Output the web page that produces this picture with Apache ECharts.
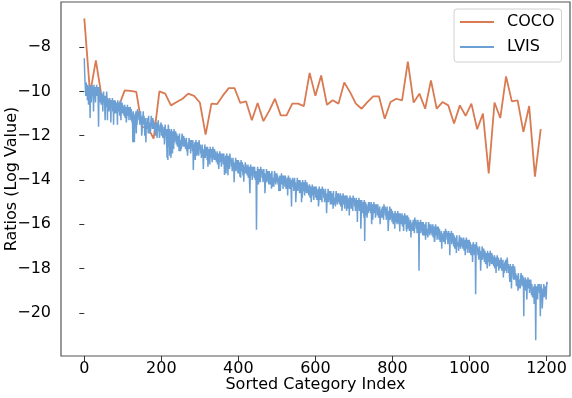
<!DOCTYPE html>
<html>
<head>
<meta charset="utf-8">
<script src="https://cdn.jsdelivr.net/npm/echarts@6/dist/echarts.min.js"></script>
<style>html,body{margin:0;padding:0;background:#fff}#c{width:572px;height:398px}</style>
</head>
<body>
<div id="c"></div>
<script>
const seriesNames = ['COCO', 'LVIS'];
const xTicks = [0, 200, 400, 600, 800, 1000, 1200];
const yTicks = [-20, -18, -16, -14, -12, -10, -8];
const cocoStep = 15;
const cocoValues = [
-6.70,-10.10,-8.60,-10.25,-10.40,-10.45,-10.64,-9.95,-9.97,-10.02,
-11.60,-11.63,-12.13,-10.00,-10.10,-10.63,-10.48,-10.33,-10.10,-10.20,
-10.50,-11.95,-10.55,-10.57,-10.18,-9.85,-9.85,-10.52,-10.45,-11.30,
-10.52,-11.34,-10.88,-10.33,-11.08,-11.08,-10.55,-10.55,-10.66,-9.16,
-10.20,-9.28,-10.60,-10.40,-10.55,-9.60,-10.03,-10.55,-10.78,-10.48,
-10.22,-10.22,-11.23,-10.48,-10.33,-10.40,-8.65,-10.50,-10.10,-10.78,
-9.50,-10.78,-10.48,-10.63,-11.45,-10.63,-11.10,-10.55,-11.71,-11.00,
-13.70,-10.50,-11.20,-9.32,-10.45,-10.40,-11.83,-10.66,-13.85,-11.70
];
const lvisValues = [
-8.5,-9.2,-9.6,-9.9,-10.2,-9.6,-10.1,-9.8,-10.4,-9.7,-10.0,-10.6,-9.8,-10.2,-9.7,-11.2,-10.0,-9.8,-10.5,-10.1,
-9.7,-10.1,-9.8,-10.2,-10.9,-9.7,-10.3,-10.0,-9.8,-10.5,-9.9,-10.1,-9.7,-10.2,-10.0,-9.8,-10.4,-11.6,-10.1,-9.8,
-10.1,-10.5,-10.0,-10.3,-10.6,-10.2,-10.4,-10.1,-10.9,-10.3,-10.0,-10.5,-10.2,-10.6,-11.3,-10.4,-10.2,-10.7,-10.0,-10.3,
-11.3,-10.3,-10.7,-10.4,-10.9,-10.6,-10.3,-10.8,-10.5,-11.4,-10.4,-10.7,-10.6,-10.3,-10.9,-10.5,-11.5,-10.4,-10.6,-11.0,
-10.4,-10.7,-11.0,-10.5,-10.8,-10.6,-11.5,-10.4,-10.9,-10.7,-10.5,-10.8,-11.1,-10.6,-10.4,-11.3,-10.7,-11.0,-10.5,-10.8,
-10.6,-11.0,-10.7,-11.1,-10.8,-10.6,-11.2,-10.9,-10.7,-11.4,-11.4,-11.0,-10.6,-11.1,-10.9,-10.7,-11.3,-10.8,-11.0,-10.7,
-10.9,-11.3,-10.8,-11.1,-11.4,-11.0,-12.3,-10.9,-11.7,-11.1,-12.3,-11.3,-11.0,-11.4,-10.9,-11.9,-11.0,-11.5,-10.8,-11.1,
-11.1,-10.9,-11.3,-11.0,-11.5,-11.2,-10.9,-11.4,-11.1,-12.0,-11.8,-11.3,-11.2,-10.9,-11.5,-11.1,-11.4,-12.0,-11.2,-11.6,
-12.3,-11.4,-11.7,-11.2,-11.5,-11.3,-11.9,-11.1,-11.6,-11.4,-11.9,-11.5,-11.8,-11.3,-11.1,-11.6,-11.4,-11.7,-11.2,-11.5,
-11.3,-11.7,-11.4,-11.8,-11.5,-12.0,-11.9,-11.6,-11.4,-12.1,-11.5,-11.7,-11.3,-11.8,-11.6,-12.1,-12.0,-11.5,-11.7,-11.4,
-11.6,-12.0,-11.5,-11.8,-12.1,-11.7,-11.9,-11.6,-12.4,-11.8,-11.5,-12.0,-11.7,-12.1,-12.4,-13.0,-11.7,-13.1,-11.5,-11.8,
-12.5,-11.7,-12.9,-11.8,-12.3,-13.0,-11.7,-12.2,-12.7,-12.8,-11.8,-12.1,-12.6,-11.7,-12.3,-11.9,-12.2,-11.8,-12.0,-12.4,
-11.9,-12.2,-12.5,-12.0,-12.3,-12.1,-12.7,-11.9,-12.4,-12.2,-12.7,-12.3,-12.6,-12.1,-11.9,-12.4,-12.2,-12.5,-12.0,-12.3,
-12.1,-12.5,-12.2,-12.6,-12.3,-12.1,-12.7,-12.4,-12.9,-12.9,-12.3,-12.5,-12.1,-12.6,-12.4,-12.2,-12.8,-12.3,-12.5,-12.2,
-12.3,-12.7,-12.2,-13.55,-12.8,-12.4,-12.6,-12.3,-13.1,-12.5,-12.2,-12.7,-12.9,-12.8,-12.3,-12.6,-12.4,-12.9,-12.2,-12.5,
-12.6,-12.4,-12.8,-12.5,-13.0,-12.7,-12.4,-12.9,-12.6,-13.5,-13.0,-12.8,-12.7,-12.4,-13.0,-12.6,-12.9,-12.5,-12.7,-13.1,
-12.5,-13.4,-13.1,-12.6,-12.9,-12.7,-13.3,-12.5,-13.0,-12.8,-12.6,-12.9,-13.2,-12.7,-12.5,-13.0,-12.8,-13.1,-12.6,-12.9,
-12.7,-13.1,-12.8,-13.2,-12.9,-12.7,-13.3,-13.0,-12.8,-13.5,-13.2,-13.1,-12.7,-13.2,-13.0,-12.8,-13.4,-12.9,-13.1,-12.8,
-12.9,-13.3,-12.8,-13.1,-13.77,-13.0,-13.2,-12.9,-13.7,-13.1,-12.8,-13.3,-13.0,-13.78,-12.9,-13.2,-13.0,-13.5,-12.8,-13.1,
-13.2,-13.0,-13.4,-13.1,-13.6,-13.3,-13.0,-13.5,-13.2,-14.1,-13.5,-13.4,-13.3,-13.0,-13.6,-13.2,-13.5,-13.1,-13.3,-13.7,
-13.1,-13.4,-13.7,-13.2,-13.85,-13.3,-13.9,-13.1,-13.6,-13.4,-13.2,-13.5,-13.8,-13.3,-14.08,-13.6,-13.4,-13.7,-13.2,-13.5,
-13.3,-13.7,-13.4,-13.8,-13.5,-13.3,-13.9,-13.6,-13.4,-14.1,-14.6,-13.7,-13.3,-13.8,-13.6,-13.4,-14.0,-13.5,-13.7,-13.4,
-13.5,-13.9,-13.4,-13.7,-14.0,-13.6,-13.8,-16.25,-14.3,-13.7,-13.4,-13.9,-14.2,-14.0,-13.5,-13.8,-13.6,-14.1,-13.4,-13.7,
-13.7,-13.5,-13.9,-13.6,-14.1,-13.8,-13.5,-14.0,-13.7,-14.6,-14.2,-13.9,-13.8,-13.5,-14.1,-13.7,-14.0,-13.6,-13.8,-14.2,
-13.6,-13.9,-14.2,-13.7,-14.0,-13.8,-14.4,-13.6,-14.1,-13.9,-14.3,-14.0,-14.3,-13.8,-13.6,-14.1,-13.9,-14.2,-13.7,-14.0,
-13.7,-14.1,-13.8,-14.2,-13.9,-14.5,-14.3,-14.0,-13.8,-14.5,-13.9,-14.1,-13.7,-14.2,-14.0,-13.8,-14.4,-13.9,-14.1,-13.8,
-13.9,-14.3,-13.8,-14.1,-14.4,-14.0,-14.2,-13.9,-14.7,-14.1,-13.8,-14.3,-14.0,-14.4,-13.9,-14.2,-14.0,-14.5,-15.2,-14.1,
-14.1,-13.9,-14.3,-14.0,-14.5,-14.2,-13.9,-14.4,-14.1,-15.0,-14.6,-14.3,-14.2,-13.9,-14.5,-14.1,-14.4,-14.0,-14.2,-14.6,
-14.0,-14.3,-14.6,-14.1,-15.0,-14.2,-14.8,-14.0,-14.5,-14.3,-14.1,-14.4,-14.7,-14.2,-14.0,-14.5,-14.3,-14.6,-14.1,-14.4,
-14.2,-14.6,-14.3,-14.7,-14.4,-14.2,-14.8,-14.5,-14.3,-15.0,-14.8,-14.6,-14.2,-14.7,-14.5,-14.3,-14.9,-14.4,-14.6,-14.3,
-14.4,-14.8,-14.3,-14.6,-14.9,-14.5,-14.7,-14.4,-15.2,-14.95,-14.3,-14.8,-14.5,-14.9,-14.4,-14.7,-14.5,-15.0,-14.3,-14.6,
-14.6,-14.4,-14.8,-14.5,-15.0,-14.7,-14.4,-14.9,-14.6,-15.5,-15.0,-14.8,-14.7,-14.4,-15.0,-14.6,-14.9,-14.5,-14.7,-15.1,
-14.5,-14.8,-15.1,-14.6,-14.9,-14.7,-15.3,-14.5,-15.0,-14.8,-15.1,-14.9,-15.2,-14.7,-14.5,-15.0,-14.8,-15.1,-14.6,-14.9,
-14.6,-15.0,-14.7,-15.1,-14.8,-14.6,-15.2,-14.9,-14.7,-15.4,-15.1,-15.0,-14.6,-15.1,-14.9,-14.7,-15.3,-14.8,-15.0,-14.7,
-14.8,-15.4,-14.7,-15.0,-15.3,-14.9,-15.1,-14.8,-15.6,-15.0,-14.7,-15.2,-14.9,-15.3,-14.8,-15.2,-14.9,-15.4,-14.7,-15.0,
-15.0,-14.8,-15.2,-14.9,-15.4,-15.1,-14.8,-15.3,-15.0,-15.9,-14.9,-15.2,-15.1,-14.8,-15.4,-15.0,-15.3,-14.9,-16.2,-15.5,
-14.9,-15.2,-15.5,-15.0,-15.3,-15.1,-15.7,-14.9,-16.75,-15.2,-15.0,-15.3,-15.6,-15.1,-15.7,-15.4,-15.2,-15.5,-15.0,-15.3,
-15.0,-15.4,-15.1,-15.5,-15.2,-15.0,-16.0,-15.3,-15.1,-15.8,-15.2,-15.4,-15.0,-15.5,-15.3,-15.1,-15.7,-15.2,-15.4,-15.1,
-15.2,-15.6,-15.1,-15.4,-15.7,-15.3,-15.5,-15.2,-16.0,-15.4,-15.7,-15.6,-15.3,-15.7,-15.2,-15.5,-15.3,-15.8,-15.1,-15.4,
-15.4,-15.2,-15.6,-15.3,-15.8,-15.5,-15.2,-15.7,-15.4,-16.3,-15.9,-15.6,-15.5,-15.2,-15.8,-15.4,-15.7,-15.3,-15.5,-15.9,
-15.4,-15.7,-16.0,-15.5,-15.8,-15.6,-16.2,-15.4,-15.9,-15.7,-15.5,-15.8,-16.0,-15.6,-15.4,-15.9,-15.7,-16.0,-15.5,-16.33,
-15.5,-15.9,-15.6,-16.0,-15.7,-15.5,-16.1,-15.8,-15.6,-16.3,-15.7,-15.9,-15.5,-16.0,-15.8,-15.6,-16.2,-16.33,-15.9,-15.6,
-15.8,-16.2,-15.7,-16.0,-16.3,-15.9,-16.1,-15.8,-16.6,-16.0,-16.2,-16.2,-15.9,-16.3,-15.8,-16.1,-15.9,-16.4,-15.7,-16.0,
-16.0,-15.8,-16.2,-15.9,-16.4,-16.1,-15.8,-16.3,-16.0,-18.1,-15.9,-16.2,-16.1,-15.8,-16.4,-16.0,-16.3,-15.9,-16.1,-16.5,
-15.9,-16.2,-16.5,-16.0,-16.3,-16.1,-16.7,-15.9,-16.4,-16.2,-16.5,-16.3,-16.6,-16.1,-15.9,-16.4,-16.2,-16.5,-16.0,-16.3,
-16.0,-16.4,-16.1,-16.5,-16.2,-16.0,-16.6,-16.3,-16.1,-16.8,-16.7,-16.4,-16.0,-16.5,-16.3,-16.1,-16.7,-16.2,-16.4,-16.1,
-16.3,-16.7,-16.2,-16.5,-16.8,-16.4,-16.6,-16.3,-17.1,-16.5,-16.7,-16.7,-16.4,-16.8,-16.3,-16.6,-16.4,-16.9,-16.2,-16.5,
-16.5,-16.3,-16.7,-16.4,-16.9,-16.9,-16.3,-16.8,-16.5,-17.4,-16.4,-16.7,-16.6,-16.3,-16.9,-16.5,-16.8,-16.4,-16.6,-17.0,
-16.5,-16.8,-17.1,-16.6,-16.9,-16.7,-17.3,-16.5,-17.0,-16.8,-17.0,-16.9,-17.2,-16.7,-16.5,-17.0,-16.8,-17.1,-16.6,-16.9,
-16.6,-17.0,-16.7,-17.1,-16.8,-16.6,-17.2,-16.9,-16.7,-17.4,-17.2,-17.0,-16.6,-17.1,-16.9,-16.7,-17.3,-16.8,-17.0,-16.7,
-16.9,-17.3,-16.8,-17.1,-17.4,-17.0,-17.2,-16.9,-17.7,-17.1,-16.8,-17.3,-17.0,-17.4,-16.9,-17.2,-19.16,-17.5,-16.8,-17.1,
-17.2,-17.0,-17.4,-17.1,-17.6,-17.3,-17.0,-17.5,-17.2,-18.1,-17.6,-17.4,-17.3,-17.0,-17.6,-17.2,-17.5,-17.1,-17.3,-17.7,
-17.2,-17.5,-17.8,-17.3,-17.6,-17.4,-18.0,-17.2,-17.7,-17.5,-17.3,-17.6,-17.9,-17.9,-17.2,-17.7,-17.5,-17.8,-17.3,-17.6,
-17.4,-17.8,-17.5,-17.9,-17.6,-17.4,-18.0,-17.7,-17.5,-18.2,-17.6,-17.8,-17.4,-17.9,-17.7,-17.5,-18.1,-17.6,-17.8,-18.0,
-17.6,-18.0,-17.5,-17.8,-18.1,-17.7,-17.9,-17.6,-18.4,-17.8,-18.2,-18.0,-17.7,-18.1,-17.6,-17.9,-17.7,-18.2,-17.5,-17.8,
-18.0,-17.8,-18.2,-17.9,-18.4,-18.6,-17.8,-18.3,-18.0,-18.9,-17.9,-18.2,-18.1,-17.8,-18.4,-18.5,-18.3,-17.9,-18.1,-18.5,
-18.2,-18.5,-18.8,-18.3,-18.6,-18.4,-19.0,-18.2,-18.7,-18.5,-18.9,-18.6,-18.9,-18.4,-18.2,-18.7,-18.5,-18.8,-18.3,-18.6,
-18.4,-20.15,-18.5,-18.9,-18.6,-18.4,-19.0,-18.7,-18.5,-19.4,-18.6,-18.8,-18.4,-18.9,-18.7,-18.5,-19.1,-18.6,-18.8,-18.5,
-18.8,-19.2,-18.7,-19.0,-19.3,-18.9,-19.3,-18.8,-19.6,-19.0,-18.7,-19.2,-21.24,-19.3,-18.8,-19.1,-18.9,-19.4,-18.7,-19.0,
-18.9,-18.7,-19.1,-18.8,-20.15,-19.0,-18.7,-19.2,-18.9,-19.8,-19.4,-19.1,-19.0,-18.7,-19.3,-18.9,-19.2,-18.8,-19.0,-19.4,
-18.9,-18.6,-18.7
];

const FONT = 'DejaVu Sans';
const minus = v => String(v).replace('-', '\u2212');
const cocoData = cocoValues.map((v, i) => [i * cocoStep, v]);
const lvisData = lvisValues.map((v, i) => [i, v]);

const chart = echarts.init(document.getElementById('c'), null, {renderer: 'canvas'});
chart.setOption({
  animation: false,
  backgroundColor: '#fff',
  grid: {left: 61, right: 2, top: 2, bottom: 42, outerBoundsMode: 'none', containLabel: false,
         show: true, borderColor: '#555', borderWidth: 1.2, backgroundColor: 'transparent'},
  legend: {
    left: 454, top: 9,
    orient: 'vertical',
    data: seriesNames,
    icon: 'rect', itemWidth: 34, itemHeight: 2, itemGap: 7,
    padding: [4, 7, 6, 6],
    borderColor: '#d0d0d0', borderWidth: 1, borderRadius: 3,
    backgroundColor: 'rgba(255,255,255,0.85)',
    textStyle: {fontFamily: FONT, fontSize: 16, color: '#000', lineHeight: 18, padding: [0, 0, 0, 8]}
  },
  xAxis: {
    type: 'value', min: -60.5, max: 1261,
    name: 'Sorted Category Index', nameLocation: 'middle', nameGap: 21, nameMoveOverlap: false,
    nameTextStyle: {fontFamily: FONT, fontSize: 16, color: '#000', verticalAlign: 'top'},
    axisLine: {show: false},
    splitLine: {show: false},
    axisTick: {show: true, inside: false, length: 5, lineStyle: {color: '#333', width: 1}, customValues: xTicks},
    axisLabel: {customValues: xTicks, fontFamily: FONT, fontSize: 16, color: '#000', margin: 5, formatter: minus}
  },
  yAxis: {
    type: 'value', min: -21.95, max: -5.96,
    name: 'Ratios (Log Value)', nameLocation: 'middle', nameGap: 49, nameRotate: 90, nameMoveOverlap: false,
    nameTextStyle: {fontFamily: FONT, fontSize: 16, color: '#000', verticalAlign: 'middle'},
    axisLine: {show: false},
    splitLine: {show: false},
    axisTick: {show: true, inside: false, length: 5, lineStyle: {color: '#333', width: 1}, customValues: yTicks},
    axisLabel: {customValues: yTicks, fontFamily: FONT, fontSize: 16, color: '#000', margin: 10, formatter: minus}
  },
  series: [
    {name: seriesNames[0], type: 'line', data: cocoData, showSymbol: false, symbol: 'none',
     lineStyle: {color: '#d97a52', width: 1.8}, itemStyle: {color: '#d97a52'}, z: 2},
    {name: seriesNames[1], type: 'line', data: lvisData, showSymbol: false, symbol: 'none', sampling: null,
     lineStyle: {color: '#6c9fd3', width: 1.5}, itemStyle: {color: '#6c9fd3'}, z: 3}
  ]
});
</script>
</body>
</html>
